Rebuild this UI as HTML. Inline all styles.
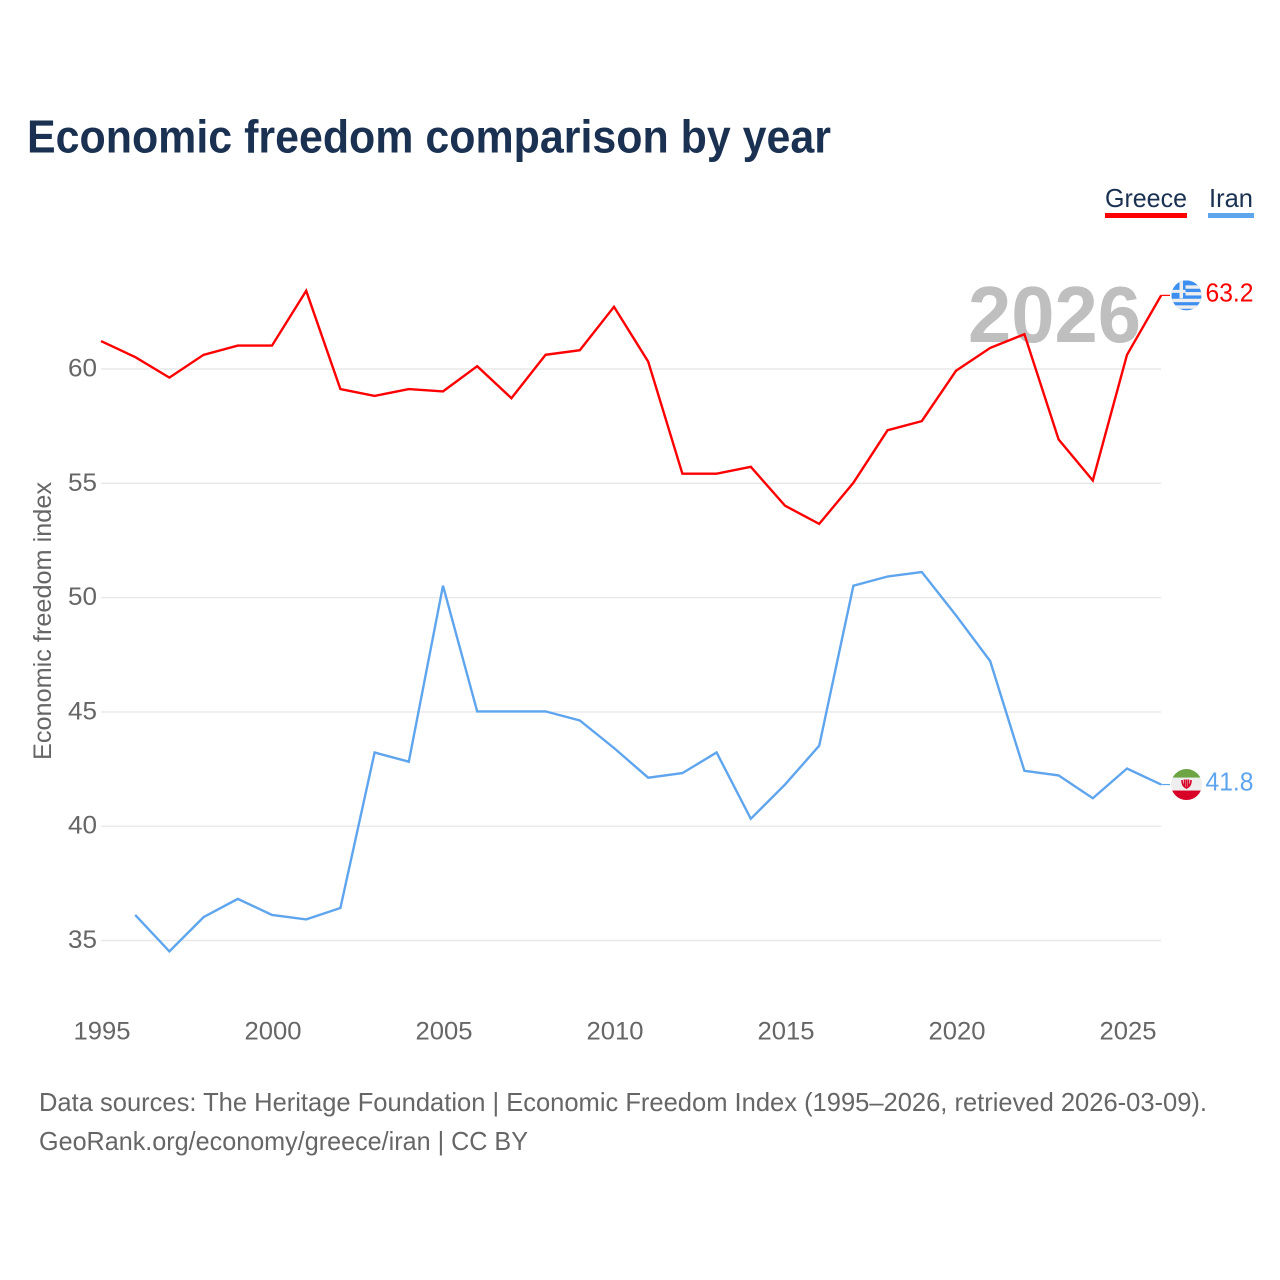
<!DOCTYPE html>
<html lang="en">
<head>
<meta charset="utf-8">
<title>Economic freedom comparison by year</title>
<style>
html,body{margin:0;padding:0;background:#fff;width:1280px;height:1280px;overflow:hidden}
svg{display:block}
text{font-family:"Liberation Sans",sans-serif}
</style>
</head>
<body>
<svg id="chart" xmlns="http://www.w3.org/2000/svg" width="1280" height="1280" viewBox="0 0 1280 1280">
  <defs>
    <clipPath id="clip-greece"><circle cx="0" cy="0" r="15"/></clipPath>
    <clipPath id="clip-iran"><circle cx="0" cy="0" r="15.5"/></clipPath>
  </defs>
  <text x="27" y="152.5" font-size="46" font-weight="700" fill="#1a3152" textLength="804" lengthAdjust="spacingAndGlyphs">Economic freedom comparison by year</text>
  <g>
    <text x="1105" y="207" font-size="26" fill="#1a3152" textLength="82" lengthAdjust="spacingAndGlyphs">Greece</text>
    <rect x="1105" y="213" width="82" height="5" fill="#ff0000"/>
  </g>
  <g>
    <text x="1209" y="207" font-size="26" fill="#1a3152" textLength="44" lengthAdjust="spacingAndGlyphs">Iran</text>
    <rect x="1208" y="213" width="46" height="5" fill="#5fa5ee"/>
  </g>
  <g id="grid"></g>
  <text x="968" y="342" font-size="80" font-weight="700" fill="#bfbfbf" textLength="173" lengthAdjust="spacingAndGlyphs">2026</text>
  <g id="y-ticks"></g>
  <g id="x-ticks"></g>
  <text transform="translate(51,621) rotate(-90)" text-anchor="middle" font-size="25" fill="#666666" textLength="278" lengthAdjust="spacingAndGlyphs">Economic freedom index</text>
  <g id="series"></g>
  <g id="flag-greece">
    <g clip-path="url(#clip-greece)">
      <rect x="-15" y="-15" width="30" height="30" fill="#3c8ff0"/>
      <rect x="-15" y="-10" width="30" height="3.4" fill="#eeeeee"/>
      <rect x="-15" y="-3.3" width="30" height="3.4" fill="#eeeeee"/>
      <rect x="-15" y="3.4" width="30" height="3.4" fill="#eeeeee"/>
      <rect x="-15" y="10" width="30" height="3.4" fill="#eeeeee"/>
      <rect x="-15" y="-15" width="14" height="18" fill="#3c8ff0"/>
      <rect x="-7" y="-15" width="3.5" height="18" fill="#eeeeee"/>
      <rect x="-15" y="-5.5" width="14" height="3" fill="#eeeeee"/>
    </g>
  </g>
  <g id="flag-iran">
    <g clip-path="url(#clip-iran)">
      <rect x="-16" y="-16" width="32" height="32" fill="#eeeeee"/>
      <rect x="-16" y="-16" width="32" height="9" fill="#6da544"/>
      <rect x="-16" y="6" width="32" height="10" fill="#d80027"/>
      <path d="M-4.5 -4.5 C-4.5 1 -2 2.5 0 3.5 C2 2.5 4.5 1 4.5 -4.5 M0 -5 V3.5 M-2 -5 V2 M2 -5 V2" fill="none" stroke="#d80027" stroke-width="1.6"/>
    </g>
  </g>
  <text id="value-greece" x="1205.5" font-size="26" fill="#ff0000" textLength="48" lengthAdjust="spacingAndGlyphs"></text>
  <text id="value-iran" x="1205.5" font-size="26" fill="#5fa5ee" textLength="48" lengthAdjust="spacingAndGlyphs"></text>
  <text x="39" y="1111" font-size="26" fill="#666666" textLength="1168" lengthAdjust="spacingAndGlyphs">Data sources: The Heritage Foundation | Economic Freedom Index (1995–2026, retrieved 2026-03-09).</text>
  <text x="39" y="1150" font-size="26" fill="#666666" textLength="489" lengthAdjust="spacingAndGlyphs">GeoRank.org/economy/greece/iran | CC BY</text>
</svg>
<script>
const years = [1995,1996,1997,1998,1999,2000,2001,2002,2003,2004,2005,2006,2007,2008,2009,2010,2011,2012,2013,2014,2015,2016,2017,2018,2019,2020,2021,2022,2023,2024,2025,2026];
const greeceValues = [61.2,60.5,59.6,60.6,61.0,61.0,63.4,59.1,58.8,59.1,59.0,60.1,58.7,60.6,60.8,62.7,60.3,55.4,55.4,55.7,54.0,53.2,55.0,57.3,57.7,59.9,60.9,61.5,56.9,55.1,60.6,63.2];
const iranValues = [null,36.1,34.5,36.0,36.8,36.1,35.9,36.4,43.2,42.8,50.5,45.0,45.0,45.0,44.6,43.4,42.1,42.3,43.2,40.3,41.8,43.5,50.5,50.9,51.1,49.2,47.2,42.4,42.2,41.2,42.5,41.8];
const yTickValues = [35,40,45,50,55,60];
const xTickValues = [1995,2000,2005,2010,2015,2020,2025];

const NS = 'http://www.w3.org/2000/svg';
function xScale(year){ return 101 + (year - 1995) * 34.2; }
function yScale(v){ return 368.5 + (60 - v) * 22.86; }
function make(tag, parent){
  const el = document.createElementNS(NS, tag);
  parent.appendChild(el);
  return el;
}

const gridGroup = document.getElementById('grid');
const yGroup = document.getElementById('y-ticks');
yTickValues.forEach(function(v){
  const line = make('line', gridGroup);
  
  
  line.setAttribute('x1', 101);
  line.setAttribute('x2', 1161);
  line.setAttribute('y1', yScale(v) + 0.5);
  line.setAttribute('y2', yScale(v) + 0.5);
  line.setAttribute('stroke', '#e8e8e8');
  line.setAttribute('stroke-width', 1.4);
  const label = make('text', yGroup);
  
  
  label.setAttribute('x', 68);
  label.setAttribute('y', yScale(v) + 8);
  label.setAttribute('font-size', 25);
  label.setAttribute('fill', '#666666');
  label.setAttribute('textLength', 29);
  label.setAttribute('lengthAdjust', 'spacingAndGlyphs');
  label.textContent = String(v);
});

const xGroup = document.getElementById('x-ticks');
xTickValues.forEach(function(year){
  const label = make('text', xGroup);
  
  
  label.setAttribute('x', xScale(year) - 27.5);
  label.setAttribute('y', 1039.5);
  label.setAttribute('font-size', 25);
  label.setAttribute('fill', '#666666');
  label.setAttribute('textLength', 57);
  label.setAttribute('lengthAdjust', 'spacingAndGlyphs');
  label.textContent = String(year);
});

function drawSeries(values, color, key, flagId, valueId){
  const group = document.getElementById('series');
  const pts = [];
  values.forEach(function(v, i){
    if (v !== null) pts.push(xScale(years[i]).toFixed(1) + ',' + yScale(v).toFixed(1));
  });
  const line = make('polyline', group);
  
  
  line.setAttribute('points', pts.join(' '));
  line.setAttribute('fill', 'none');
  line.setAttribute('stroke', color);
  line.setAttribute('stroke-width', 2.4);
  line.setAttribute('stroke-linejoin', 'miter');

  const last = values[values.length - 1];
  const lastX = xScale(years[years.length - 1]);
  const lastY = yScale(last);
  const connector = make('line', group);
  
  
  connector.setAttribute('x1', lastX);
  connector.setAttribute('x2', 1170);
  connector.setAttribute('y1', lastY);
  connector.setAttribute('y2', lastY);
  connector.setAttribute('stroke', color);
  connector.setAttribute('stroke-width', 1.2);

  document.getElementById(flagId).setAttribute('transform', 'translate(1186.5,' + lastY + ')');
  const valueLabel = document.getElementById(valueId);
  valueLabel.setAttribute('y', lastY + 6);
  valueLabel.textContent = last.toFixed(1);
}
drawSeries(greeceValues, '#ff0000', 'greece', 'flag-greece', 'value-greece');
drawSeries(iranValues, '#5fa5ee', 'iran', 'flag-iran', 'value-iran');
</script>
</body>
</html>
